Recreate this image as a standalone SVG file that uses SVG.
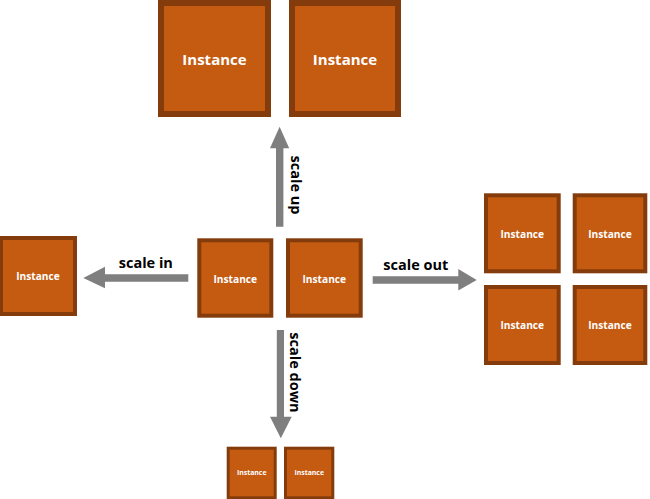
<svg xmlns="http://www.w3.org/2000/svg" width="650" height="499" viewBox="0 0 650 499">
<style>
.box{fill:#c55a11;stroke:#843c0c}
.t{font-family:"Open Sans","Liberation Sans",sans-serif;font-weight:bold;fill:#ffffff;text-anchor:middle}
.lbl{font-family:"Open Sans","Liberation Sans",sans-serif;font-weight:bold;font-size:14.5px;fill:#000000;text-anchor:middle}
.arr{fill:#7f7f7f}
</style>
<rect width="650" height="499" fill="#ffffff"/>
<g id="top1"><rect class="box" x="161" y="3" width="107" height="111" stroke-width="6"/><text class="t" x="214.5" y="65" font-size="15">Instance</text></g>
<g id="top2"><rect class="box" x="292" y="3" width="106" height="111" stroke-width="6"/><text class="t" x="345" y="65" font-size="15">Instance</text></g>
<g id="center1"><rect class="box" x="199.3" y="240.3" width="72" height="75.4" stroke-width="4"/><text class="t" x="235.3" y="282.6" font-size="10.2">Instance</text></g>
<g id="center2"><rect class="box" x="288" y="240.3" width="72.7" height="75.4" stroke-width="4"/><text class="t" x="324.3" y="282.6" font-size="10.2">Instance</text></g>
<g id="left"><rect class="box" x="1" y="238" width="74" height="76" stroke-width="4"/><text class="t" x="38" y="279.6" font-size="10.2">Instance</text></g>
<g id="right1"><rect class="box" x="486" y="195.3" width="72.7" height="76" stroke-width="4"/><text class="t" x="522.3" y="237.6" font-size="10.2">Instance</text></g>
<g id="right2"><rect class="box" x="574.7" y="195.3" width="70.6" height="76" stroke-width="4"/><text class="t" x="610" y="237.6" font-size="10.2">Instance</text></g>
<g id="right3"><rect class="box" x="486" y="287" width="72.7" height="76" stroke-width="4"/><text class="t" x="522.3" y="328.6" font-size="10.2">Instance</text></g>
<g id="right4"><rect class="box" x="574.7" y="287" width="70.6" height="76" stroke-width="4"/><text class="t" x="610" y="328.6" font-size="10.2">Instance</text></g>
<g id="bottom1"><rect class="box" x="228.2" y="448.2" width="47" height="49.6" stroke-width="3"/><text class="t" x="251.7" y="475.4" font-size="6.9">Instance</text></g>
<g id="bottom2"><rect class="box" x="285.5" y="448.2" width="47.3" height="49.6" stroke-width="3"/><text class="t" x="309.2" y="475.4" font-size="6.9">Instance</text></g>
<g id="connectors">
<polygon class="arr" points="276,226.7 283.4,226.7 283.4,148.3 289.2,148.3 279.6,126.7 270,148.3 276,148.3"/>
<polygon class="arr" points="276.8,330 284,330 284,416.7 291.7,416.7 280.8,438.3 270,416.7 276.8,416.7"/>
<polygon class="arr" points="188.3,274.3 188.3,281.7 105,281.7 105,288.3 83.3,278 105,266.7 105,274.3"/>
<polygon class="arr" points="372.7,276.3 372.7,283.7 458.3,283.7 458.3,290.5 476.7,280 458.3,269 458.3,276.3"/>
<text class="lbl" x="145.8" y="268.3">scale in</text>
<text class="lbl" x="415.8" y="270">scale out</text>
<text class="lbl" transform="translate(290.8,185) rotate(90)">scale up</text>
<text class="lbl" transform="translate(290,372.5) rotate(90)">scale down</text>
</g>
</svg>
